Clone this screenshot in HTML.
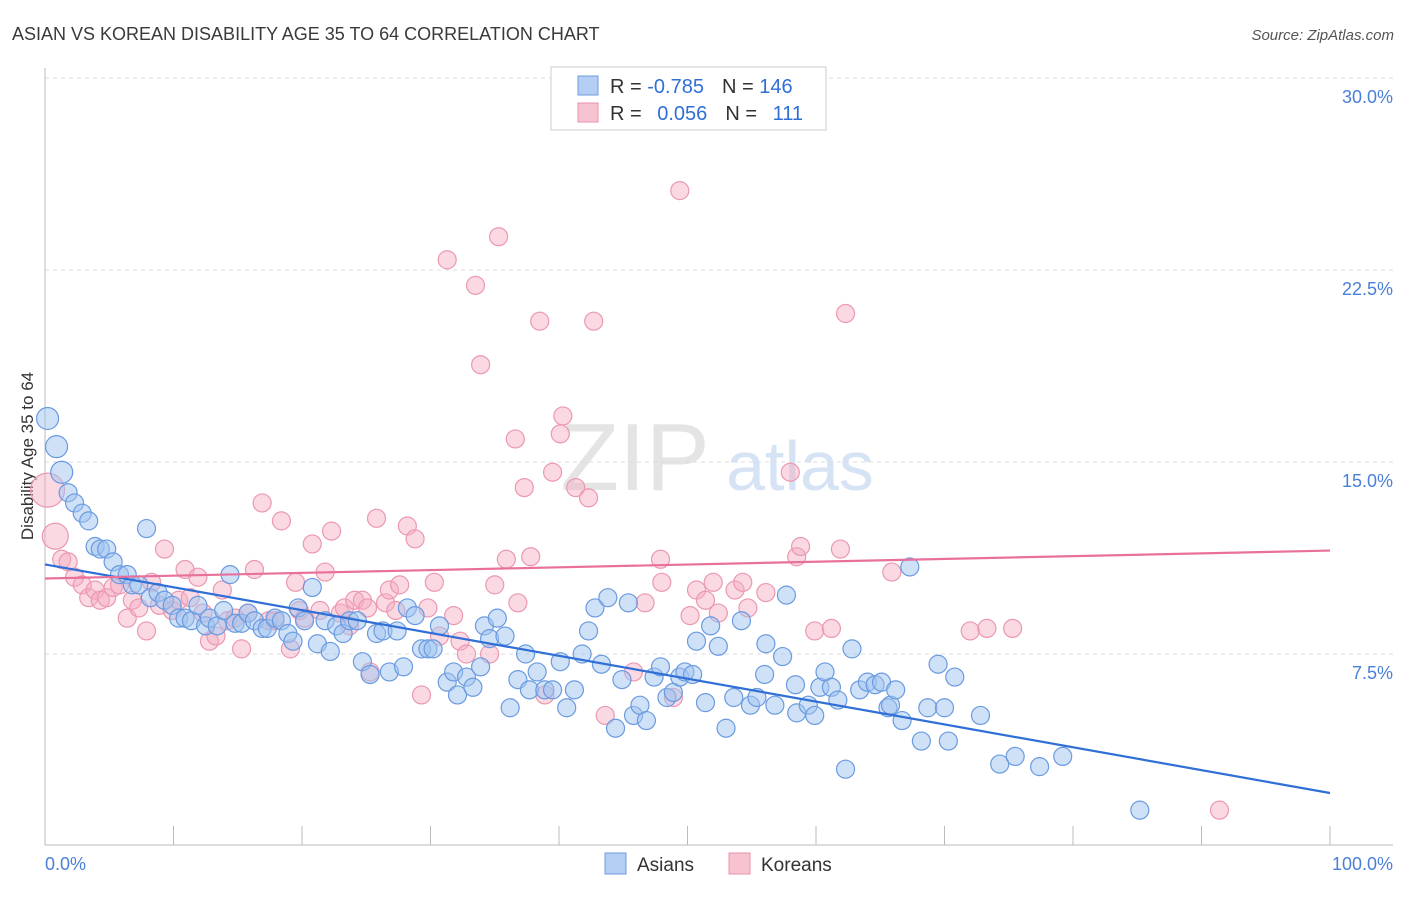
<!DOCTYPE html>
<html><head><meta charset="utf-8"><style>
body{margin:0;background:#fff;font-family:"Liberation Sans",sans-serif}
svg text{font-family:"Liberation Sans",sans-serif}
</style></head><body>
<svg width="1406" height="892" xmlns="http://www.w3.org/2000/svg">
<text x="12" y="40" font-size="18" fill="#3a3a3a">ASIAN VS KOREAN DISABILITY AGE 35 TO 64 CORRELATION CHART</text>
<text x="1394" y="40" font-size="15" fill="#555" font-style="italic" text-anchor="end">Source: ZipAtlas.com</text>
<g>
<text x="635" y="490" font-size="96" fill="#e4e4e4" font-family="Liberation Serif" text-anchor="middle">ZIP</text>
<text x="800" y="490" font-size="70" fill="#d6e3f5" text-anchor="middle">atlas</text>
</g>
<g id="grid"></g>
<g id="axes"></g>
<text transform="translate(33,456) rotate(-90)" font-size="17" fill="#333" text-anchor="middle">Disability Age 35 to 64</text>
<g id="pts"></g>
<g id="lines"></g>
<g>
<rect x="551" y="67" width="275" height="63" fill="#fff" stroke="#ccc"/>
<rect x="578" y="76" width="20" height="19" fill="#b4cff3" stroke="#6d9be0"/>
<rect x="578" y="103" width="20" height="19" fill="#f7c3d1" stroke="#e993ac"/>
<text x="610" y="93" font-size="20" fill="#333">R = <tspan fill="#2f6fd6">-0.785</tspan><tspan dx="18">N = </tspan><tspan fill="#2f6fd6">146</tspan></text>
<text x="610" y="120" font-size="20" fill="#333">R = <tspan fill="#2f6fd6" dx="10">0.056</tspan><tspan dx="18">N = </tspan><tspan fill="#2f6fd6" dx="10">111</tspan></text>
</g>
<g>
<rect x="605" y="853" width="21" height="21" fill="#b4cff3" stroke="#6d9be0"/>
<text x="637" y="871" font-size="19" fill="#333">Asians</text>
<rect x="729" y="853" width="21" height="21" fill="#f7c3d1" stroke="#e993ac"/>
<text x="761" y="871" font-size="19" fill="#333">Koreans</text>
</g>
</svg>
<script>
const yTicks=[7.5,15,22.5,30];
const yTickLabels=["7.5%","15.0%","22.5%","30.0%"];
const xTicks=[0,10,20,30,40,50,60,70,80,90,100];
const xEndLabels=["0.0%","100.0%"];
const asianX=[0.2,0.9,1.3,1.8,2.3,2.9,3.4,3.9,4.3,4.8,5.3,5.8,6.4,6.8,7.3,7.9,8.2,8.8,9.3,9.9,10.4,10.9,11.4,11.9,12.5,12.8,13.4,13.9,14.4,14.8,15.3,15.8,16.3,16.9,17.3,17.9,18.4,18.9,19.3,19.7,20.2,20.8,21.2,21.8,22.2,22.7,23.2,23.7,24.3,24.7,25.3,25.8,26.3,26.8,27.4,27.9,28.2,28.8,29.3,29.8,30.2,30.7,31.3,31.8,32.1,32.8,33.3,33.9,34.2,34.6,35.2,35.8,36.2,36.8,37.4,37.7,38.3,38.9,39.5,40.1,40.6,41.2,41.8,42.3,42.8,43.3,43.8,44.4,44.9,45.4,45.8,46.3,46.8,47.4,47.9,48.4,48.9,49.4,49.8,50.4,50.7,51.4,51.8,52.4,53.0,53.6,54.2,54.9,55.4,56.0,56.1,56.8,57.4,57.7,58.4,58.5,59.4,59.9,60.3,60.7,61.2,61.7,62.3,62.8,63.4,64.0,64.6,65.1,65.6,65.8,66.2,66.7,67.3,68.2,68.7,69.5,70.0,70.3,70.8,72.8,74.3,75.5,77.4,79.2,85.2];
const asianY=[16.7,15.6,14.6,13.8,13.4,13.0,12.7,11.7,11.6,11.6,11.1,10.6,10.6,10.2,10.2,12.4,9.7,9.9,9.6,9.4,8.9,8.9,8.8,9.4,8.6,8.9,8.6,9.2,10.6,8.7,8.7,9.1,8.8,8.5,8.5,8.9,8.8,8.3,8.0,9.3,8.8,10.1,7.9,8.8,7.6,8.6,8.3,8.8,8.8,7.2,6.7,8.3,8.4,6.8,8.4,7.0,9.3,9.0,7.7,7.7,7.7,8.6,6.4,6.8,5.9,6.6,6.2,7.0,8.6,8.1,8.9,8.2,5.4,6.5,7.5,6.1,6.8,6.1,6.1,7.2,5.4,6.1,7.5,8.4,9.3,7.1,9.7,4.6,6.5,9.5,5.1,5.5,4.9,6.6,7.0,5.8,6.0,6.6,6.8,6.7,8.0,5.6,8.6,7.8,4.6,5.8,8.8,5.5,5.8,6.7,7.9,5.5,7.4,9.8,6.3,5.2,5.5,5.1,6.2,6.8,6.2,5.7,3.0,7.7,6.1,6.4,6.3,6.4,5.4,5.5,6.1,4.9,10.9,4.1,5.4,7.1,5.4,4.1,6.6,5.1,3.2,3.5,3.1,3.5,1.4];
const koreanX=[0.2,0.8,1.3,1.8,2.3,2.9,3.4,3.9,4.3,4.8,5.3,5.8,6.4,6.8,7.3,7.9,8.3,8.9,9.3,9.9,10.4,10.9,11.3,11.9,12.3,12.8,13.3,13.8,14.2,14.8,15.3,15.8,16.3,16.9,17.4,17.9,18.4,19.1,19.5,19.8,20.2,20.8,21.4,21.8,22.3,23.0,23.3,23.7,24.1,24.7,25.1,25.3,25.8,26.5,26.8,27.3,27.6,28.2,28.8,29.3,29.8,30.3,30.7,31.3,31.8,32.3,32.8,33.5,33.9,34.6,35.0,35.3,35.9,36.6,36.8,37.3,37.8,38.5,38.9,39.5,40.1,40.3,41.3,42.3,42.7,43.6,45.8,46.7,47.9,48.0,48.9,49.4,50.2,50.7,51.4,52.0,52.4,53.7,54.3,54.7,56.1,58.0,58.5,58.8,59.9,61.2,61.9,62.3,65.9,72.0,73.3,75.3,91.4];
const koreanY=[13.9,12.1,11.2,11.1,10.5,10.2,9.7,10.0,9.6,9.7,10.1,10.2,8.9,9.6,9.3,8.4,10.3,9.4,11.6,9.2,9.6,10.8,9.7,10.5,9.1,8.0,8.2,10.0,8.8,8.9,7.7,9.1,10.8,13.4,8.8,8.8,12.7,7.7,10.3,9.2,8.9,11.8,9.2,10.7,12.3,9.1,9.3,8.6,9.6,9.6,9.3,6.8,12.8,9.5,10.0,9.2,10.2,12.5,12.0,5.9,9.3,10.3,8.2,22.9,9.0,8.0,7.5,21.9,18.8,7.5,10.2,23.8,11.2,15.9,9.5,14.0,11.3,20.5,5.9,14.6,16.1,16.8,14.0,13.6,20.5,5.1,6.8,9.5,11.2,10.3,5.8,25.6,9.0,10.0,9.6,10.3,9.1,10.0,10.3,9.3,9.9,14.6,11.3,11.7,8.4,8.5,11.6,20.8,10.7,8.4,8.5,8.5,1.4];
const asianTrend=[11.0,2.07];
const koreanTrend=[10.45,11.54];

const NS="http://www.w3.org/2000/svg";
const X0=45,X1=1330,Y0=846,YPX=25.6;
const sx=v=>X0+(X1-X0)*v/100;
const sy=v=>Y0-v*YPX;
function mk(tag,attrs,parent){const e=document.createElementNS(NS,tag);for(const k in attrs)e.setAttribute(k,attrs[k]);parent.appendChild(e);return e;}
const grid=document.getElementById('grid'),axes=document.getElementById('axes');
yTicks.forEach((t,i)=>{
 const l=mk('line',{x1:X0,x2:1393,y1:sy(t),y2:sy(t),stroke:'#ddd','stroke-dasharray':'4,4'},grid);
 
 
 const tx=mk('text',{x:1393,y:sy(t)+25,'font-size':18,fill:'#4a7fd8','text-anchor':'end'},axes);
 tx.textContent=yTickLabels[i];
 
 
});
const al=mk('line',{x1:X0,x2:1393,y1:845,y2:845,stroke:'#bbb'},axes);


const yl=mk('line',{x1:X0,x2:X0,y1:68,y2:845,stroke:'#bbb'},axes);


xTicks.forEach(t=>{
 const l=mk('line',{x1:sx(t),x2:sx(t),y1:826,y2:845,stroke:'#bbb'},axes);
 
 
});
[[0,'start',45],[100,'end',1393]].forEach((d,i)=>{
 const tx=mk('text',{x:d[2],y:870,'font-size':18,fill:'#4a7fd8','text-anchor':d[1]},axes);
 tx.textContent=xEndLabels[i];
 
 
});
const pts=document.getElementById('pts');
koreanX.forEach((x,i)=>{
 const r=i==0?17:(i==1?13:9);
 const c=mk('circle',{cx:sx(x),cy:sy(koreanY[i]),r:r,fill:'rgba(244,170,192,0.45)',stroke:'#eb98b0','stroke-width':1.2},pts);
 
 
});
asianX.forEach((x,i)=>{
 const r=i<3?11:9;
 const c=mk('circle',{cx:sx(x),cy:sy(asianY[i]),r:r,fill:'rgba(160,195,240,0.5)',stroke:'#6a9ae0','stroke-width':1.2},pts);
 
 
});
const lines=document.getElementById('lines');
const bl=mk('line',{x1:sx(0),y1:sy(asianTrend[0]),x2:sx(100),y2:sy(asianTrend[1]),stroke:'#2f6fd6','stroke-width':2.2},lines);


const pl=mk('line',{x1:sx(0),y1:sy(koreanTrend[0]),x2:sx(100),y2:sy(koreanTrend[1]),stroke:'#e8709a','stroke-width':2.2},lines);


</script>
</body></html>
